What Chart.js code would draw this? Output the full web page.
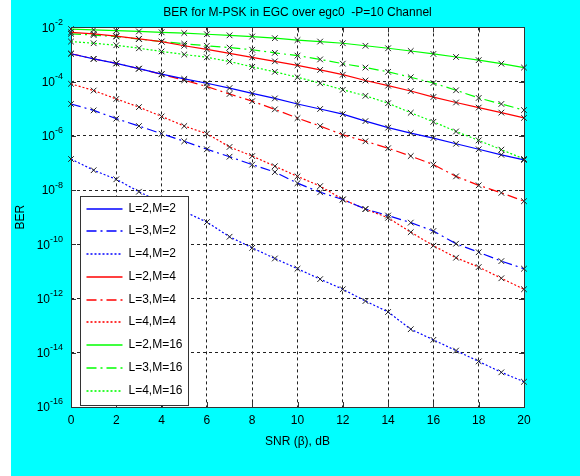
<!DOCTYPE html>
<html>
<head>
<meta charset="utf-8">
<script src="https://cdn.jsdelivr.net/npm/chart.js@4.4.0/dist/chart.umd.min.js"></script>
<style>
  html, body { margin: 0; padding: 0; background: #00ffff; }
  #wrap { width: 580px; height: 476px; }
</style>
</head>
<body>
<div id="wrap"><canvas id="chart" width="580" height="476"></canvas></div>
<script>
// SNR in dB (x axis)
const snr = [0, 1, 2, 3, 4, 5, 6, 7, 8, 9, 10, 11, 12, 13, 14, 15, 16, 17, 18, 19, 20];
const yTicks = [1e-2, 1e-4, 1e-6, 1e-8, 1e-10, 1e-12, 1e-14, 1e-16];

// BER values
const berL2M2 = [1.07e-3, 6.9e-4, 4.7e-4, 3.0e-4, 1.9e-4, 1.26e-4, 8.7e-5, 5.8e-5, 3.7e-5, 2.4e-5, 1.5e-5,
                 9.8e-6, 6.3e-6, 3.5e-6, 2.0e-6, 1.26e-6, 8.3e-7, 5.1e-7, 3.2e-7, 2.0e-7, 1.3e-7];
const berL3M2 = [1.5e-5, 8.7e-6, 4.3e-6, 2.3e-6, 1.2e-6, 6.3e-7, 3.2e-7, 1.7e-7, 8.7e-8, 4.6e-8, 1.8e-8,
                 8.3e-9, 4.5e-9, 2.0e-9, 1.15e-9, 6.3e-10, 3.1e-10, 1.05e-10, 5.1e-11, 2.4e-11, 1.26e-11];
const berL4M2 = [1.4e-7, 5.4e-8, 2.5e-8, 8.7e-9, 3.4e-9, 1.6e-9, 6.6e-10, 1.9e-10, 7.4e-11, 3.0e-11, 1.26e-11,
                 5.2e-12, 2.2e-12, 8.1e-13, 3.2e-13, 7.4e-14, 3.0e-14, 1.2e-14, 4.8e-15, 1.9e-15, 8.5e-16];
const berL2M4 = [6.6e-3, 5.8e-3, 4.8e-3, 3.8e-3, 3.0e-3, 2.1e-3, 1.55e-3, 1.1e-3, 7.9e-4, 5.6e-4, 4.0e-4,
                 2.7e-4, 1.8e-4, 1.1e-4, 7.1e-5, 4.5e-5, 2.7e-5, 1.7e-5, 1.1e-5, 7.2e-6, 4.6e-6];
const berL3M4 = [1.07e-3, 6.9e-4, 4.7e-4, 3.0e-4, 1.86e-4, 1.12e-4, 6.6e-5, 3.5e-5, 1.9e-5, 9.5e-6, 4.5e-6,
                 2.3e-6, 1.1e-6, 6.3e-7, 3.5e-7, 1.8e-7, 8.7e-8, 3.2e-8, 1.5e-8, 7.9e-9, 3.9e-9];
const berL4M4 = [8.3e-5, 4.7e-5, 2.3e-5, 1.15e-5, 5.2e-6, 2.3e-6, 1.2e-6, 3.9e-7, 1.8e-7, 7.6e-8, 3.2e-8,
                 1.4e-8, 4.5e-9, 2.0e-9, 9.5e-10, 2.8e-10, 8.9e-11, 3.2e-11, 1.45e-11, 5.6e-12, 2.2e-12];
const berL2M16 = [8.7e-3, 8.1e-3, 7.6e-3, 7.1e-3, 6.6e-3, 6.2e-3, 5.6e-3, 5.1e-3, 4.6e-3, 4.0e-3, 3.4e-3,
                  3.0e-3, 2.6e-3, 2.1e-3, 1.7e-3, 1.35e-3, 1.05e-3, 8.1e-4, 6.2e-4, 4.6e-4, 3.3e-4];
const berL3M16 = [5.8e-3, 5.2e-3, 4.6e-3, 3.7e-3, 3.0e-3, 2.5e-3, 2.1e-3, 1.8e-3, 1.5e-3, 1.15e-3, 9.1e-4,
                  6.6e-4, 4.6e-4, 3.3e-4, 2.3e-4, 1.45e-4, 8.9e-5, 4.8e-5, 2.5e-5, 1.5e-5, 8.9e-6];
const berL4M16 = [3.0e-3, 2.6e-3, 2.2e-3, 1.7e-3, 1.3e-3, 1.0e-3, 7.9e-4, 5.5e-4, 3.5e-4, 2.3e-4, 1.45e-4,
                  8.7e-5, 5.0e-5, 3.0e-5, 1.6e-5, 7.1e-6, 3.3e-6, 1.45e-6, 6.8e-7, 3.1e-7, 1.4e-7];

const FONT = '"Liberation Sans", Arial, sans-serif';
const SOLID = [], DASHDOT = [10, 4, 2, 4], DOTTED = [2, 2];

function makeSet(label, values, color, dash) {
    return {
        label: label,
        data: values.map((v, i) => ({ x: snr[i], y: v })),
        borderColor: color,
        borderWidth: 1.2,
        borderDash: dash,
        pointStyle: 'crossRot',
        pointRadius: 4,
        pointBorderColor: '#222',
        pointBackgroundColor: 'transparent',
        pointBorderWidth: 1,
        tension: 0,
        fill: false,
        clip: false
    };
}

const datasets = [
    makeSet('L=2,M=2', berL2M2, '#0000ff', SOLID),
    makeSet('L=3,M=2', berL3M2, '#0000ff', DASHDOT),
    makeSet('L=4,M=2', berL4M2, '#0000ff', DOTTED),
    makeSet('L=2,M=4', berL2M4, '#ff0000', SOLID),
    makeSet('L=3,M=4', berL3M4, '#ff0000', DASHDOT),
    makeSet('L=4,M=4', berL4M4, '#ff0000', DOTTED),
    makeSet('L=2,M=16', berL2M16, '#00ff00', SOLID),
    makeSet('L=3,M=16', berL3M16, '#00ff00', DASHDOT),
    makeSet('L=4,M=16', berL4M16, '#00ff00', DOTTED)
];

// cyan figure, white strip on the left, white axes
const background = {
    id: 'background',
    beforeDraw(chart) {
        const { ctx, width, height, chartArea: a } = chart;
        ctx.save();
        ctx.fillStyle = '#00ffff';
        ctx.fillRect(0, 0, width, height);
        ctx.fillStyle = '#ffffff';
        ctx.fillRect(0, 0, 11, height);
        ctx.fillRect(a.left, a.top, a.right - a.left, a.bottom - a.top);
        ctx.restore();
    }
};

// "10" with a raised exponent, like the original axis labels
const yLabels = {
    id: 'yLabels',
    afterDraw(chart) {
        const { ctx, scales } = chart;
        const y = scales.y;
        const right = chart.chartArea.left - 8;
        ctx.save();
        ctx.fillStyle = '#000';
        ctx.textBaseline = 'middle';
        y.ticks.forEach(t => {
            const py = y.getPixelForValue(t.value);
            const e = String(Math.round(Math.log10(t.value)));
            ctx.font = '9px ' + FONT;
            const ew = ctx.measureText(e).width;
            ctx.textAlign = 'left';
            ctx.fillText(e, right - ew, py - 5);
            ctx.font = '12px ' + FONT;
            ctx.textAlign = 'right';
            ctx.fillText('10', right - ew, py + 1);
        });
        ctx.restore();
    }
};

// axes frame, inner ticks and the boxed legend
const frameAndLegend = {
    id: 'frameAndLegend',
    afterDatasetsDraw(chart) {
        const { ctx, chartArea: a, scales } = chart;
        ctx.save();
        ctx.strokeStyle = '#333';
        ctx.lineWidth = 1;
        ctx.setLineDash([]);
        ctx.beginPath();
        scales.x.ticks.forEach(t => {
            const px = Math.round(scales.x.getPixelForValue(t.value)) + 0.5;
            ctx.moveTo(px, a.bottom); ctx.lineTo(px, a.bottom - 5);
            ctx.moveTo(px, a.top); ctx.lineTo(px, a.top + 5);
        });
        scales.y.ticks.forEach(t => {
            const py = Math.round(scales.y.getPixelForValue(t.value)) + 0.5;
            ctx.moveTo(a.left, py); ctx.lineTo(a.left + 5, py);
            ctx.moveTo(a.right, py); ctx.lineTo(a.right - 5, py);
        });
        ctx.stroke();
        ctx.strokeRect(Math.round(a.left) + 0.5, Math.round(a.top) + 0.5,
                       Math.round(a.right - a.left), Math.round(a.bottom - a.top));

        const x = Math.round(a.left) + 9.5, y = Math.round(a.bottom) - 210.5, w = 108, h = 209;
        ctx.fillStyle = '#ffffff';
        ctx.fillRect(x, y, w, h);
        ctx.strokeStyle = '#333';
        ctx.strokeRect(x, y, w, h);
        ctx.font = '12px ' + FONT;
        ctx.textBaseline = 'middle';
        ctx.textAlign = 'left';
        chart.data.datasets.forEach((ds, i) => {
            const ry = Math.round(y + 12 + i * 22.75);
            ctx.save();
            ctx.beginPath();
            ctx.lineWidth = 1.6;
            ctx.setLineDash(ds.borderDash);
            ctx.strokeStyle = ds.borderColor;
            ctx.moveTo(x + 6, ry);
            ctx.lineTo(x + 42, ry);
            ctx.stroke();
            ctx.restore();
            ctx.fillStyle = '#000';
            ctx.fillText(ds.label, x + 48, ry);
        });
        ctx.restore();
    }
};

Chart.defaults.font.family = FONT;
Chart.defaults.font.size = 12;
Chart.defaults.color = '#000';

new Chart(document.getElementById('chart'), {
    type: 'line',
    data: { datasets: datasets },
    plugins: [background, frameAndLegend, yLabels],
    options: {
        responsive: false,
        animation: false,
        layout: { padding: { left: 0, right: 56, top: 0, bottom: 0 } },
        plugins: {
            legend: { display: false },
            tooltip: { enabled: false },
            title: {
                display: true,
                fullSize: false,
                text: 'BER for M-PSK in EGC over egc0  -P=10 Channel',
                font: { size: 12, weight: 'normal' },
                color: '#000',
                padding: { top: 5, bottom: 8 }
            }
        },
        scales: {
            x: {
                type: 'linear',
                min: 0,
                max: 20,
                ticks: { stepSize: 2, padding: 6, color: '#000', font: { size: 12 } },
                grid: { color: '#222', drawTicks: false },
                border: { display: false, dash: [3, 3] },
                title: { display: true, text: 'SNR (\u03b2), dB', font: { size: 12 }, padding: { top: 0, bottom: 27 } },
                afterFit(scale) { scale.height = 69; }
            },
            y: {
                type: 'logarithmic',
                min: 1e-16,
                max: 1e-2,
                afterBuildTicks(scale) {
                    scale.ticks = yTicks.map(v => ({ value: v }));
                },
                ticks: {
                    // drawn by the yLabels plugin with a raised exponent
                    color: 'rgba(0,0,0,0)',
                    font: { size: 12 },
                    callback(value) {
                        return '10' + Math.round(Math.log10(value));
                    }
                },
                grid: { color: '#222', drawTicks: false },
                border: { display: false, dash: [3, 3] },
                title: { display: true, text: 'BER', font: { size: 12 }, padding: { top: 13, bottom: 0 } },
                afterFit(scale) { scale.width = 71; }
            }
        }
    }
});
</script>
</body>
</html>
